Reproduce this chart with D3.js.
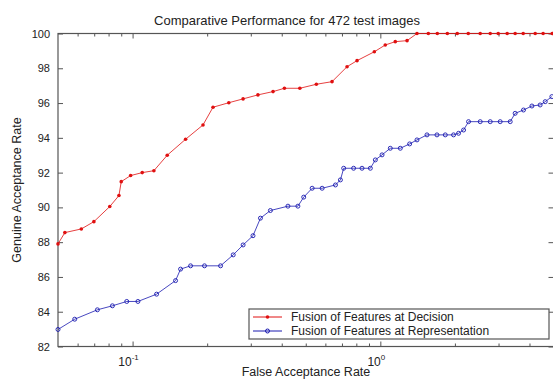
<!DOCTYPE html>
<html>
<head>
<meta charset="utf-8">
<script src="https://cdn.jsdelivr.net/npm/d3@7"></script>
<style>
  html, body { margin: 0; padding: 0; background: #fff; }
  svg { display: block; font-family: "Liberation Sans", Arial, sans-serif; }
</style>
</head>
<body>
<svg id="chart" width="553" height="381"></svg>
<script>
// ---- data ----
const chartTitle = "Comparative Performance for 472 test images";
const xLabel = "False Acceptance Rate";
const yLabel = "Genuine Acceptance Rate";
const seriesNames = ["Fusion of Features at Decision", "Fusion of Features at Representation"];
const yTicks = [82, 84, 86, 88, 90, 92, 94, 96, 98, 100];
const xMajorTicks = [0.1, 1];
const xMajorLabels = [["10", "-1"], ["10", "0"]];
const xMinorTicks = [0.06, 0.07, 0.08, 0.09, 0.2, 0.3, 0.4, 0.5, 0.6, 0.7, 0.8, 0.9, 2, 3, 4];

const decisionFAR = [0.050, 0.0533, 0.0621, 0.0698, 0.0809, 0.0881, 0.0900, 0.0982, 0.1094, 0.1219,
  0.1380, 0.1637, 0.1924, 0.2112, 0.2446, 0.2793, 0.3206, 0.3690, 0.4101, 0.4733,
  0.5518, 0.6384, 0.7340, 0.8054, 0.9458, 1.047, 1.149, 1.282, 1.406, 1.562,
  1.698, 1.864, 2.044, 2.264, 2.530, 2.777, 2.991, 3.251, 3.501, 3.773,
  4.218, 4.540, 4.940];
const decisionGAR = [87.9, 88.55, 88.76, 89.18, 90.05, 90.68, 91.48, 91.83, 92.0, 92.11,
  93.0, 93.92, 94.74, 95.76, 96.02, 96.24, 96.47, 96.66, 96.85, 96.85,
  97.08, 97.23, 98.09, 98.44, 98.95, 99.34, 99.53, 99.59, 100, 100,
  100, 100, 100, 100, 100, 100, 100, 100, 100, 100,
  100, 100, 100];

const reprFAR = [0.050, 0.0584, 0.0721, 0.0829, 0.0947, 0.1051, 0.1250, 0.1491, 0.1562, 0.1714,
  0.1951, 0.2265, 0.2548, 0.2793, 0.3062, 0.3282, 0.3600, 0.4237, 0.4648, 0.4907,
  0.5306, 0.5822, 0.6590, 0.6901, 0.7113, 0.7800, 0.8434, 0.9114, 0.9547, 1.016,
  1.097, 1.204, 1.313, 1.406, 1.543, 1.693, 1.829, 1.975, 2.069, 2.168,
  2.270, 2.530, 2.777, 3.046, 3.344, 3.501, 3.783, 4.091, 4.416, 4.630,
  4.925];
const reprGAR = [82.98, 83.57, 84.11, 84.34, 84.59, 84.59, 85.01, 85.79, 86.45, 86.64,
  86.64, 86.64, 87.27, 87.84, 88.37, 89.38, 89.82, 90.07, 90.07, 90.59,
  91.10, 91.10, 91.29, 91.58, 92.25, 92.25, 92.25, 92.25, 92.73, 93.02,
  93.40, 93.40, 93.65, 93.88, 94.17, 94.17, 94.17, 94.17, 94.26, 94.45,
  94.93, 94.93, 94.93, 94.93, 94.93, 95.41, 95.60, 95.83, 95.89, 96.08,
  96.37];

const xDomain = [0.05, 5];
const yDomain = [82, 100];

// ---- layout ----
const pLeft = 58, pRight = 553.5, pTop = 33.5, pBottom = 346.5;
const axisColor = "#555";
const redColor = "#e01010";
const blueColor = "#1a1ab0";

const svg = d3.select("#chart");
const x = d3.scaleLog().domain(xDomain).range([pLeft, pRight]);
const y = d3.scaleLinear().domain(yDomain).range([pBottom, pTop]);

// box
const g = svg.append("g");
g.append("rect").attr("x", pLeft).attr("y", pTop)
  .attr("width", pRight - pLeft + 1).attr("height", pBottom - pTop)
  .attr("fill", "none").attr("stroke", axisColor).attr("stroke-width", 1.2);

// bottom axis (ticks inward)
const xMajorAxis = d3.axisBottom(x).tickValues(xMajorTicks).tickSize(-5).tickFormat("");
const xMinorAxis = d3.axisBottom(x).tickValues(xMinorTicks).tickSize(-3).tickFormat("");
[xMajorAxis, xMinorAxis].forEach(ax => {
  const a = g.append("g").attr("transform", `translate(0,${pBottom})`).call(ax);
  a.select(".domain").remove();
  a.selectAll("line").attr("stroke", axisColor);
});
// top axis ticks
const xMajorTop = d3.axisTop(x).tickValues(xMajorTicks).tickSize(-5).tickFormat("");
const xMinorTop = d3.axisTop(x).tickValues(xMinorTicks).tickSize(-3).tickFormat("");
[xMajorTop, xMinorTop].forEach(ax => {
  const a = g.append("g").attr("transform", `translate(0,${pTop})`).call(ax);
  a.select(".domain").remove();
  a.selectAll("line").attr("stroke", axisColor);
});
// x labels with superscripts
xMajorTicks.forEach((v, i) => {
  const t = g.append("text").attr("x", x(v) - 4).attr("y", 366)
    .attr("text-anchor", "middle").attr("font-size", 12).attr("fill", "#222");
  t.append("tspan").text(xMajorLabels[i][0]);
  t.append("tspan").attr("dy", -6).attr("font-size", 8).text(xMajorLabels[i][1]);
});

// y axes
const yAxisL = d3.axisLeft(y).tickValues(yTicks).tickSize(-5).tickPadding(8).tickFormat(d3.format("d"));
const al = g.append("g").attr("transform", `translate(${pLeft},0)`).call(yAxisL);
al.select(".domain").remove();
al.selectAll("line").attr("stroke", axisColor);
al.selectAll("text").attr("font-size", 11).attr("fill", "#222")
  .attr("font-family", "'Liberation Sans', Arial, sans-serif");
const yAxisR = d3.axisRight(y).tickValues(yTicks).tickSize(-5).tickFormat("");
const ar = g.append("g").attr("transform", `translate(${pRight},0)`).call(yAxisR);
ar.select(".domain").remove();
ar.selectAll("line").attr("stroke", axisColor);

// clip
svg.append("clipPath").attr("id", "clip").append("rect")
  .attr("x", pLeft - 3).attr("y", pTop - 3).attr("width", pRight - pLeft + 6).attr("height", pBottom - pTop + 6);

const line = d3.line().x(d => x(d[0])).y(d => y(d[1]));
const decData = decisionFAR.map((v, i) => [v, decisionGAR[i]]);
const repData = reprFAR.map((v, i) => [v, reprGAR[i]]);

const plot = svg.append("g").attr("clip-path", "url(#clip)");
plot.append("path").datum(decData).attr("d", line)
  .attr("fill", "none").attr("stroke", redColor).attr("stroke-width", 1).attr("stroke-opacity", 0.8);
plot.selectAll(".dm").data(decData).enter().append("circle")
  .attr("cx", d => x(d[0])).attr("cy", d => y(d[1])).attr("r", 1.8)
  .attr("fill", redColor);

plot.append("path").datum(repData).attr("d", line)
  .attr("fill", "none").attr("stroke", blueColor).attr("stroke-width", 1).attr("stroke-opacity", 0.8);
plot.selectAll(".rm").data(repData).enter().append("circle")
  .attr("cx", d => x(d[0])).attr("cy", d => y(d[1])).attr("r", 2)
  .attr("fill", "none").attr("stroke", blueColor).attr("stroke-width", 0.9);

// title and axis labels
svg.append("text").attr("x", 287).attr("y", 25).attr("text-anchor", "middle")
  .attr("font-size", 13).attr("fill", "#222").text(chartTitle);
svg.append("text").attr("x", 306).attr("y", 376).attr("text-anchor", "middle")
  .attr("font-size", 12.5).attr("fill", "#222").text(xLabel);
svg.append("text").attr("transform", `translate(21,190) rotate(-90)`).attr("text-anchor", "middle")
  .attr("font-size", 12.5).attr("fill", "#222").text(yLabel);

// legend
const lg = svg.append("g");
lg.append("rect").attr("x", 249).attr("y", 309).attr("width", 300).attr("height", 30)
  .attr("fill", "#fff").attr("stroke", axisColor).attr("stroke-width", 1.2);
const legendRows = [
  { name: seriesNames[0], color: redColor, filled: true, yy: 317 },
  { name: seriesNames[1], color: blueColor, filled: false, yy: 331 }
];
legendRows.forEach(r => {
  lg.append("line").attr("x1", 253).attr("x2", 282).attr("y1", r.yy).attr("y2", r.yy)
    .attr("stroke", r.color).attr("stroke-width", 1);
  lg.append("circle").attr("cx", 267.5).attr("cy", r.yy).attr("r", r.filled ? 1.8 : 2)
    .attr("fill", r.filled ? r.color : "none").attr("stroke", r.filled ? "none" : r.color);
  lg.append("text").attr("x", 291).attr("y", r.yy + 4).attr("font-size", 12).attr("fill", "#222").text(r.name);
});
</script>
</body>
</html>
